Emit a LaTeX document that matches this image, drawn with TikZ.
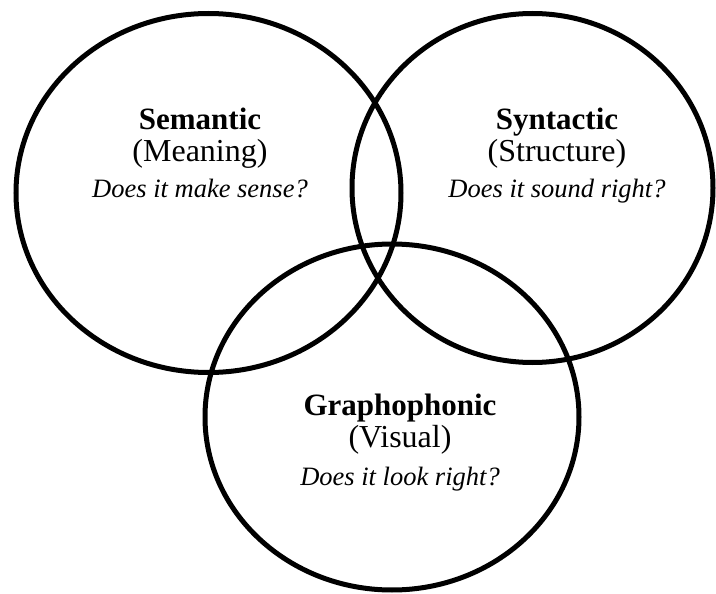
\documentclass[tikz,border=0pt]{standalone}
\usepackage{fontspec}
\setmainfont{Liberation Serif}
\usepackage{tikz}

\begin{document}
\begin{tikzpicture}[x=1pt,y=-1pt,
ring/.style = {line width=5pt, color=black},
title/.style = {anchor=base, inner sep=0pt, font=\fontsize{31}{36}\selectfont\bfseries},
gloss/.style = {anchor=base, inner sep=0pt, font=\fontsize{32}{36}\selectfont},
question/.style = {anchor=base, inner sep=0pt, font=\fontsize{26.5}{30}\selectfont\itshape}
]
\useasboundingbox (0,0) rectangle (716,594);

% the three cueing systems
\coordinate (sem) at (208.5,193);
\coordinate (syn) at (532.5,188);
\coordinate (gra) at (392,417);

\draw [ring] (sem) ellipse [x radius=192.5, y radius=179.5];
\draw [ring] (syn) ellipse [x radius=180.5, y radius=174.5];
\draw [ring] (gra) ellipse [x radius=187, y radius=173];

\node [title] (semtitle) at (200,129) {Semantic};
\node [gloss] (semgloss) at (200,161) {(Meaning)};
\node [question] (semq) at (200,197) {Does it make sense?};

\node [title] (syntitle) at (557,129) {Syntactic};
\node [gloss] (syngloss) at (557,161) {(Structure)};
\node [question] (synq) at (557,197) {Does it sound right?};

\node [title] (gratitle) at (400,415) {Graphophonic};
\node [gloss] (gragloss) at (400,447) {(Visual)};
\node [question] (graq) at (400,485) {Does it look right?};

\end{tikzpicture}
\end{document}
